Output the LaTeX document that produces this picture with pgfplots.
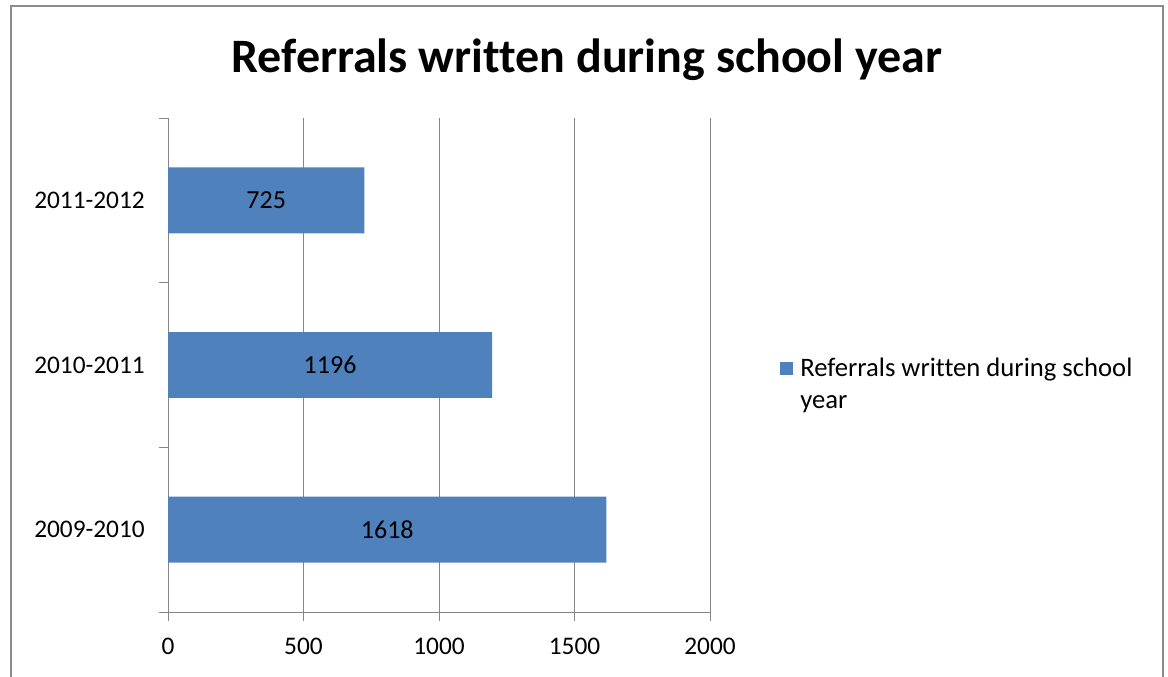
\documentclass[border=0pt]{standalone}
\usepackage{pgfplots}
\pgfplotsset{compat=1.18}
\usepackage{fontspec}
\setmainfont{Carlito}[Ligatures=NoCommon]
\definecolor{barblue}{HTML}{4F81BD}
\definecolor{gridgray}{HTML}{868686}
\definecolor{framegray}{HTML}{8C8C8C}
\begin{document}
\begin{tikzpicture}
\useasboundingbox (0pt,0pt) rectangle (876pt,507pt);
\draw[framegray, line width=1.5pt] (8.25pt,-5pt) -- (8.25pt,502.5pt) -- (872.25pt,502.5pt) -- (872.25pt,-5pt);
\node[anchor=base, inner sep=0pt, font=\bfseries\fontsize{36}{40}\selectfont] at (440.25pt,452.25pt) {Referrals written during school year};
\begin{axis}[
  at={(126pt,48pt)}, anchor=south west,
  width=406.5pt, height=370.5pt, scale only axis,
  xmin=0, xmax=2000, ymin=0, ymax=3,
  xtick={0,500,1000,1500,2000},
  ytick={0.5,1.5,2.5},
  yticklabels={2009-2010,2010-2011,2011-2012},
  extra y ticks={0,1,2,3},
  extra y tick labels={},
  extra y tick style={ytick style={draw=gridgray, line width=0.75pt}, grid=none},
  axis x line*=bottom, axis y line*=left,
  axis line style={draw=gridgray, line width=0.75pt, -},
  tick align=outside,
  major tick length=6.75pt,
  xtick style={draw=gridgray, line width=0.75pt},
  ytick style={draw=none},
  xmajorgrids,
  major grid style={draw=gridgray, line width=0.75pt},
  /pgf/number format/assume math mode=true,
  /pgf/number format/1000 sep={},
  ticklabel style={font=\fontsize{19}{22}\selectfont, text=black},
  xticklabel style={inner sep=0pt, anchor=north, yshift=-12.75pt},
  yticklabel style={inner sep=0pt, anchor=east, xshift=-10.5pt},
  xbar, bar width=0.4, bar shift=0pt,
  legend style={at={(1.1292,0.5142)}, anchor=north west, draw=none, fill=none,
    inner sep=0pt, column sep=5.25pt,
    font=\fontsize{20}{24}\selectfont,
    nodes={inner sep=0pt, align=left}},
  legend cell align=left,
  legend image code/.code={\fill[barblue] (0pt,7pt) rectangle (9.75pt,16.75pt);},
  visualization depends on=x \as \rawx,
  nodes near coords,
  every node near coord/.append style={anchor=center, font=\fontsize{19.5}{22}\selectfont, text=black,
    /pgf/number format/1000 sep={},
    shift={(axis direction cs:-\rawx/2,0)}},
]
\addplot[fill=barblue, draw=none] coordinates {(1618,0.5) (1196,1.5) (725,2.5)};
\addlegendentry{Referrals written during school\\year}
\end{axis}
\end{tikzpicture}
\end{document}
